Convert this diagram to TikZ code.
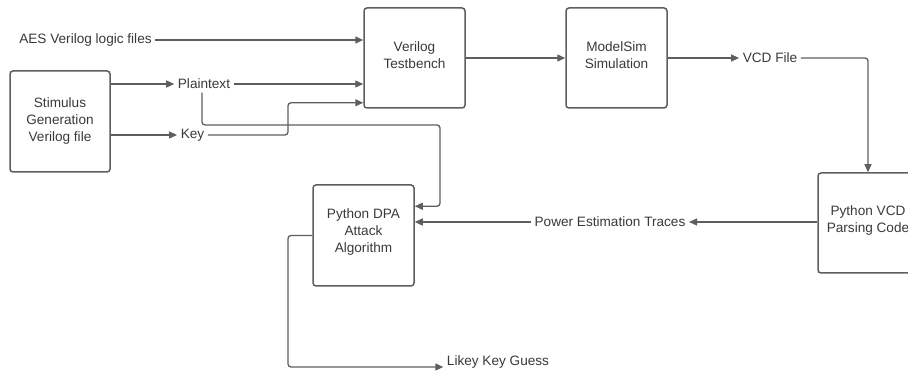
\documentclass[tikz,border=0pt]{standalone}
\usepackage{fontspec}
\setmainfont{Liberation Sans}
\usetikzlibrary{arrows.meta}
\definecolor{lc}{HTML}{5E5E5E}
\definecolor{tc}{HTML}{3A3A3A}
\begin{document}
\begin{tikzpicture}[x=1pt,y=-1pt,
  txt/.style={text=tc, font=\fontsize{13.6}{17}\selectfont},
  box/.style={draw=lc, line width=1.5pt, rounded corners=3pt, minimum width=100pt, minimum height=100pt, inner sep=0pt},
  boxtext/.style={txt, align=center, inner sep=0pt},
  lbl/.style={txt, inner sep=3.5pt},
  conn/.style={draw=lc, line width=1.3pt, rounded corners=3pt, -{Triangle[length=8pt,width=7pt]}}]
\clip (0,0) rectangle (908,371);
\fill[white] (0,0) rectangle (908,371);
% boxes
\node[box, minimum height=101pt] (stim) at (60,121.5) {};
\node[boxtext] (stimt) at (60,121) {Stimulus\\Generation\\Verilog file};
\node[box, minimum width=101pt] (tb) at (414.5,58) {};
\node[boxtext] (tbt) at (414.5,55.5) {Verilog\\Testbench};
\node[box, minimum width=101pt] (ms) at (616.5,58) {};
\node[boxtext] (mst) at (616.5,55.5) {ModelSim\\Simulation};
\node[box] (vcd) at (868,223) {};
\node[boxtext] (vcdt) at (868,220.5) {Python VCD\\Parsing Code};
\node[box, minimum width=101pt, minimum height=101pt] (dpa) at (363.5,235.5) {};
\node[boxtext] (dpat) at (363.5,232) {Python DPA\\Attack\\Algorithm};
% labels
\node[lbl] (aes) at (85.5,40) {AES Verilog logic files};
\node[lbl] (plain) at (204,84) {Plaintext};
\node[lbl] (key) at (192.5,135) {Key};
\node[lbl] (vcdf) at (770,58) {VCD File};
\node[lbl] (pet) at (610,222) {Power Estimation Traces};
\node[lbl] (guess) at (498,362) {Likey Key Guess};
% connectors
\draw[conn] (aes.east) -- (tb.west |- aes.east);
\draw[conn] (stim.east |- plain) -- (plain.west);
\draw[conn] (plain.east) -- (tb.west |- plain.east);
\draw[conn] (stim.east |- key) -- (key.west);
\draw[conn] (key.east) -- (288,135) |- ([yshift=6pt]tb.south west);
\draw[conn] ([xshift=-2pt]plain.south) |- (440,125) |- ([yshift=-22pt]dpa.north east);
\draw[conn] (tb.east) -- (ms.west);
\draw[conn] (ms.east) -- (vcdf.west);
\draw[conn] (vcdf.east) -| (vcd.north);
\draw[conn] (vcd.west |- pet) -- (pet.east);
\draw[conn] (pet.west) -- (dpa.east |- pet.west);
\draw[conn] (dpa.west) -- (288,235.5) |- ([yshift=-5pt]guess.west);
\end{tikzpicture}
\end{document}
